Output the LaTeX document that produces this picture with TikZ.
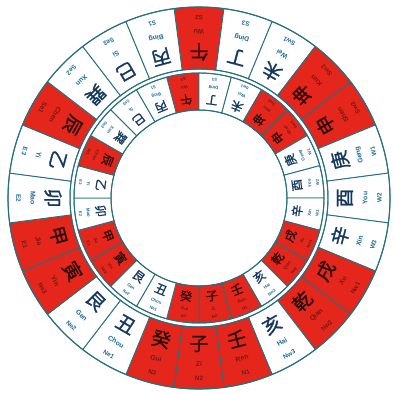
\documentclass[tikz,border=0pt]{standalone}
\usepackage{fontspec}
\setmainfont{Liberation Sans}
\newfontfamily\cjk[FakeBold=1.2]{Noto Sans CJK SC}
\definecolor{cred}{RGB}{228,38,28}
\definecolor{cline}{RGB}{38,112,125}
\definecolor{ctxt}{RGB}{20,55,95}
\definecolor{cpin}{RGB}{30,105,150}
\definecolor{cdark}{RGB}{45,15,15}
\definecolor{cdr}{RGB}{120,25,20}
\tikzset{
  cellline/.style={draw=cline, line width=0.9pt},
  bigch/.style={inner sep=0pt, font=\fontsize{19}{19}\selectfont\cjk},
  bigpy/.style={inner sep=0pt, font=\fontsize{6.8}{6.8}\selectfont\bfseries},
  bigdr/.style={inner sep=0pt, font=\fontsize{6.3}{6.3}\selectfont\bfseries},
  smch/.style={inner sep=0pt, font=\fontsize{12}{12}\selectfont\cjk},
  smpy/.style={inner sep=0pt, font=\fontsize{4.4}{4.4}\selectfont\bfseries},
  smdr/.style={inner sep=0pt, font=\fontsize{4.1}{4.1}\selectfont\bfseries}
}
\begin{document}
\begin{tikzpicture}[x=1pt,y=1pt]
\useasboundingbox (0,0) rectangle (394,394);
\fill[white] (0,0) rectangle (394,394);
\begin{scope}[shift={(199pt,196pt)}]
\foreach \k/\ch/\py/\dr/\rd in {0/午/Wu/S2/1, 1/丁/Ding/S3/0, 2/未/Wei/Sw1/0, 3/坤/Kun/Sw2/1,
  4/申/Shen/Sw3/1, 5/庚/Geng/W1/0, 6/酉/You/W2/0, 7/辛/Xin/W3/0, 8/戌/Xu/Nw1/1,
  9/乾/Qian/Nw2/1, 10/亥/Hai/Nw3/0, 11/壬/Ren/N1/1, 12/子/Zi/N2/1, 13/癸/Gui/N3/1,
  14/丑/Chou/Ne1/0, 15/艮/Gen/Ne2/0, 16/寅/Yin/Ne3/1, 17/甲/Jia/E1/1, 18/卯/Mao/E2/0,
  19/乙/Yi/E3/0, 20/辰/Chen/Se1/1, 21/巽/Xun/Se2/0, 22/巳/Si/Se3/0, 23/丙/Bing/S1/0}{
  \pgfmathsetmacro{\a}{90-15*\k}
  \pgfmathsetmacro{\aa}{\a-7.5}
  \pgfmathsetmacro{\ab}{\a+7.5}
  \pgfmathsetmacro{\ia}{\a+7.5}
  \pgfmathsetmacro{\iaa}{\a}
  \pgfmathsetmacro{\iab}{\a+15}
  \pgfmathsetmacro{\ro}{\a+90}
  \pgfmathsetmacro{\ri}{\ia+90}
  \ifnum\rd=1
    \def\fc{cred}\def\tc{cdark}\def\sc{cdr}
  \else
    \def\fc{white}\def\tc{ctxt}\def\sc{cpin}
  \fi
  % outer ring cell
  \filldraw[cellline, fill=\fc] (\aa:129pt) -- (\aa:191pt)
     arc[start angle=\aa, end angle=\ab, radius=191pt] -- (\ab:129pt)
     arc[start angle=\ab, end angle=\aa, radius=129pt] -- cycle;
  % inner ring cell
  \filldraw[cellline, fill=\fc] (\iaa:88pt) -- (\iaa:125pt)
     arc[start angle=\iaa, end angle=\iab, radius=125pt] -- (\iab:88pt)
     arc[start angle=\iab, end angle=\iaa, radius=88pt] -- cycle;
  % outer texts
  \node[bigch, text=\tc, rotate=\ro] (oc\k) at (\a:146pt) {\ch};
  \node[bigpy, text=\sc, rotate=\ro] (op\k) at (\a:166pt) {\py};
  \node[bigdr, text=\sc, rotate=\ro] (od\k) at (\a:180.5pt) {\dr};
  % inner texts
  \node[smch, text=\tc, rotate=\ri] (ic\k) at (\ia:99pt) {\ch};
  \node[smpy, text=\sc, rotate=\ri] (ip\k) at (\ia:111.5pt) {\py};
  \node[smdr, text=\sc, rotate=\ri] (id\k) at (\ia:119.5pt) {\dr};
}
\draw[cline, line width=1.1pt] (0,0) circle[radius=191pt];
\draw[cline, line width=1pt] (0,0) circle[radius=129pt];
\draw[cline, line width=1pt] (0,0) circle[radius=125pt];
\draw[cline, line width=1pt] (0,0) circle[radius=88pt];
\end{scope}
\end{tikzpicture}
\end{document}
